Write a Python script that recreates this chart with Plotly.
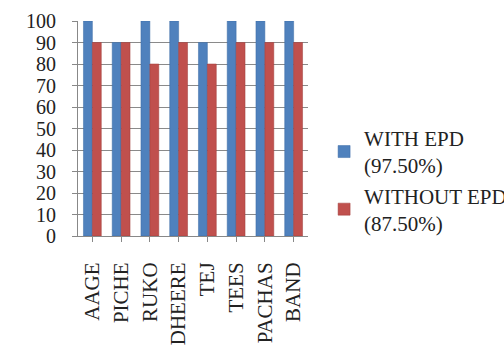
import plotly.graph_objects as go

categories = ["AAGE", "PICHE", "RUKO", "DHEERE", "TEJ", "TEES", "PACHAS", "BAND"]
with_epd = [100, 90, 100, 100, 90, 100, 100, 100]
without_epd = [90, 90, 80, 90, 80, 90, 90, 90]
name_with = "WITH EPD<br>(97.50%)"
name_without = "WITHOUT EPD<br>(87.50%)"
y_ticks = list(range(0, 101, 10))

font_family = "Times New Roman"

fig = go.Figure()
fig.add_trace(go.Bar(x=categories, y=with_epd, name=name_with,
                     marker=dict(color="#4F81BD", line=dict(color="#3A6AA5", width=0.5))))
fig.add_trace(go.Bar(x=categories, y=without_epd, name=name_without,
                     marker=dict(color="#C0504D", line=dict(color="#A03C3A", width=0.5))))

fig.update_layout(
    width=504, height=346,
    margin=dict(l=78, r=196, t=21, b=110, autoexpand=False),
    paper_bgcolor="white", plot_bgcolor="white",
    barmode="group", bargap=0.38, bargroupgap=0.0,
    font=dict(family=font_family, color="#222", size=16),
    showlegend=True,
    legend=dict(x=1.07, xanchor="left", y=0.55, yanchor="top",
                font=dict(family=font_family, size=21, color="#222"),
                tracegroupgap=0, itemwidth=30, bgcolor="rgba(0,0,0,0)"),
    xaxis=dict(tickangle=-90, showline=True, linecolor="#888", linewidth=1,
               ticks="outside", ticklen=5, tickcolor="#888",
               ticklabelstandoff=12, automargin=False,
               tickfont=dict(family=font_family, size=21, color="#222"),
               showgrid=False),
    yaxis=dict(range=[0, 100], tickvals=y_ticks, showline=True, linecolor="#888",
               linewidth=1, ticks="outside", ticklen=5, tickcolor="#888",
               ticklabelstandoff=12, automargin=False,
               gridcolor="#8a8a8a", gridwidth=1,
               tickfont=dict(family=font_family, size=20, color="#222")),
)
fig.write_html("out.html")
